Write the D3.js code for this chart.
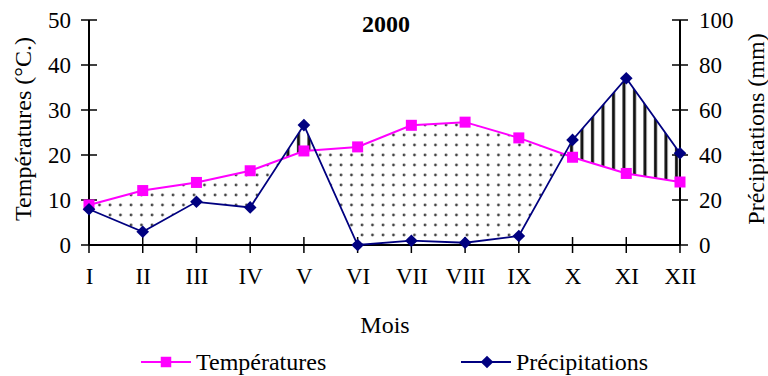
<!DOCTYPE html>
<html>
<head>
<meta charset="utf-8">
<script src="https://cdn.jsdelivr.net/npm/d3@7"></script>
<style>
  body { margin: 0; background: #fff; }
  text { font-family: "Liberation Serif", "Times New Roman", serif; fill: #000; }
</style>
</head>
<body>
<svg id="chart" width="768" height="376"></svg>
<script>
var months = ["I", "II", "III", "IV", "V", "VI", "VII", "VIII", "IX", "X", "XI", "XII"];
var temps = [8.9, 12.1, 13.9, 16.5, 20.9, 21.8, 26.6, 27.3, 23.8, 19.5, 15.9, 14.0];
var precip = [15.9, 5.9, 19.2, 16.7, 53.3, 0, 1.9, 1.0, 4.0, 46.7, 74.1, 40.8];
var tempTicks = [0, 10, 20, 30, 40, 50];
var precipTicks = [0, 20, 40, 60, 80, 100];

var svg = d3.select("#chart");
var plotLeft = 89, plotRight = 680, plotTop = 20, plotBottom = 245;

var x = d3.scalePoint().domain(months).range([plotLeft, plotRight]);
var yT = d3.scaleLinear().domain([0, 50]).range([plotBottom, plotTop]);
var yP = d3.scaleLinear().domain([0, 100]).range([plotBottom, plotTop]);

var data = months.map(function (m, i) {
    return {month: m, t: temps[i], p: precip[i]};
});

// patterns
var defs = svg.append("defs");
var dots = defs.append("pattern")
    .attr("id", "dots")
    .attr("patternUnits", "userSpaceOnUse")
    .attr("width", 10.5).attr("height", 10);
dots.append("circle").attr("cx", 5).attr("cy", 5).attr("r", 1.4).attr("fill", "#444");

var stripes = defs.append("pattern")
    .attr("id", "stripes")
    .attr("patternUnits", "userSpaceOnUse")
    .attr("width", 10.5).attr("height", 10);
stripes.append("rect").attr("x", 3).attr("y", 0).attr("width", 3).attr("height", 10).attr("fill", "#111");

// clip regions
defs.append("clipPath").attr("id", "belowT")
    .append("path")
    .attr("d", d3.area()
        .x(function (d) { return x(d.month); })
        .y0(plotBottom)
        .y1(function (d) { return yT(d.t); })(data));

defs.append("clipPath").attr("id", "belowP")
    .append("path")
    .attr("d", d3.area()
        .x(function (d) { return x(d.month); })
        .y0(plotBottom)
        .y1(function (d) { return yP(d.p); })(data));

// dry: temperature above precipitation
svg.append("path")
    .attr("clip-path", "url(#belowT)")
    .attr("fill", "url(#dots)")
    .attr("d", d3.area()
        .x(function (d) { return x(d.month); })
        .y0(plotTop)
        .y1(function (d) { return yP(d.p); })(data));

// humid: precipitation above temperature
svg.append("path")
    .attr("clip-path", "url(#belowP)")
    .attr("fill", "url(#stripes)")
    .attr("d", d3.area()
        .x(function (d) { return x(d.month); })
        .y0(plotTop)
        .y1(function (d) { return yT(d.t); })(data));

// axes
var axisL = svg.append("g").attr("transform", "translate(" + plotLeft + ",0)")
    .call(d3.axisLeft(yT).tickValues(tempTicks).tickSize(0).tickPadding(18));
var axisR = svg.append("g").attr("transform", "translate(" + plotRight + ",0)")
    .call(d3.axisRight(yP).tickValues(precipTicks).tickSize(0).tickPadding(19));
var axisB = svg.append("g").attr("transform", "translate(0," + plotBottom + ")")
    .call(d3.axisBottom(x).tickSize(0).tickPadding(31));

[axisL, axisR, axisB].forEach(function (a) {
    a.select(".domain").remove();
    a.selectAll("text").style("font-family", "Liberation Serif").style("font-size", "23px").attr("fill", "#000");
});
axisB.selectAll("text").attr("dy", "0.35em");

// tick marks crossing the axis lines
svg.append("g").selectAll("line").data(tempTicks).enter().append("line")
    .attr("x1", plotLeft - 8).attr("x2", plotLeft + 8)
    .attr("y1", function (d) { return yT(d); }).attr("y2", function (d) { return yT(d); })
    .attr("stroke", "#000").attr("stroke-width", 1.5);
svg.append("g").selectAll("line").data(precipTicks).enter().append("line")
    .attr("x1", plotRight - 8).attr("x2", plotRight + 8)
    .attr("y1", function (d) { return yP(d); }).attr("y2", function (d) { return yP(d); })
    .attr("stroke", "#000").attr("stroke-width", 1.5);
svg.append("g").selectAll("line").data(months).enter().append("line")
    .attr("x1", function (d) { return x(d); }).attr("x2", function (d) { return x(d); })
    .attr("y1", plotBottom - 8).attr("y2", plotBottom + 8)
    .attr("stroke", "#000").attr("stroke-width", 1.5);

svg.append("line").attr("x1", plotLeft).attr("x2", plotLeft).attr("y1", plotTop).attr("y2", plotBottom)
    .attr("stroke", "#000").attr("stroke-width", 2);
svg.append("line").attr("x1", plotRight).attr("x2", plotRight).attr("y1", plotTop).attr("y2", plotBottom)
    .attr("stroke", "#000").attr("stroke-width", 2);
svg.append("line").attr("x1", plotLeft).attr("x2", plotRight).attr("y1", plotBottom).attr("y2", plotBottom)
    .attr("stroke", "#000").attr("stroke-width", 2);

// lines
svg.append("path")
    .attr("fill", "none").attr("stroke", "#ff00ff").attr("stroke-width", 2)
    .attr("d", d3.line().x(function (d) { return x(d.month); }).y(function (d) { return yT(d.t); })(data));
svg.append("path")
    .attr("fill", "none").attr("stroke", "#000080").attr("stroke-width", 1.8)
    .attr("d", d3.line().x(function (d) { return x(d.month); }).y(function (d) { return yP(d.p); })(data));

svg.selectAll(".sq").data(data).enter().append("rect")
    .attr("class", "sq")
    .attr("x", function (d) { return x(d.month) - 5.5; })
    .attr("y", function (d) { return yT(d.t) - 5.5; })
    .attr("width", 11).attr("height", 11)
    .attr("fill", "#ff00ff");

svg.selectAll(".dm").data(data).enter().append("path")
    .attr("class", "dm")
    .attr("transform", function (d) { return "translate(" + x(d.month) + "," + yP(d.p) + ") rotate(45)"; })
    .attr("d", d3.symbol().type(d3.symbolSquare).size(80))
    .attr("fill", "#000080");

// titles
svg.append("text").attr("x", 386).attr("y", 32).attr("text-anchor", "middle")
    .style("font-size", "24px").style("font-weight", "bold").text("2000");
svg.append("text").attr("transform", "translate(31,129) rotate(-90)").attr("text-anchor", "middle")
    .style("font-size", "24px").text("Températures (°C.)");
svg.append("text").attr("transform", "translate(764,129) rotate(-90)").attr("text-anchor", "middle")
    .style("font-size", "24px").text("Précipitations (mm)");
svg.append("text").attr("x", 385).attr("y", 333).attr("text-anchor", "middle")
    .style("font-size", "24px").text("Mois");

// legend
var legend = [
    {label: "Températures", color: "#ff00ff", x: 141, shape: "square"},
    {label: "Précipitations", color: "#000080", x: 461, shape: "diamond"}
];
var lg = svg.selectAll(".lg").data(legend).enter().append("g")
    .attr("class", "lg")
    .attr("transform", function (d) { return "translate(" + d.x + ",362)"; });
lg.append("line").attr("x1", 0).attr("x2", 50).attr("y1", 0).attr("y2", 0)
    .attr("stroke", function (d) { return d.color; }).attr("stroke-width", 2);
lg.append("path")
    .attr("transform", function (d) { return d.shape === "diamond" ? "translate(26,0) rotate(45)" : "translate(25,0)"; })
    .attr("d", function (d) { return d3.symbol().type(d3.symbolSquare).size(d.shape === "diamond" ? 80 : 110)(); })
    .attr("fill", function (d) { return d.color; });
lg.append("text").attr("x", 55).attr("y", 8)
    .style("font-size", "24px").text(function (d) { return d.label; });
</script>
</body>
</html>
